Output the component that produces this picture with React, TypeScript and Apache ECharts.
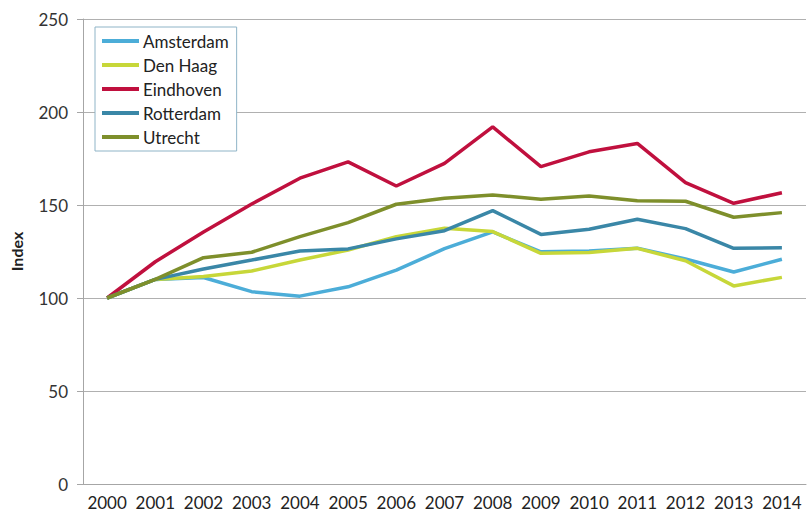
import React, { useEffect, useRef } from "react";
import * as echarts from "echarts";

const years = ["2000","2001","2002","2003","2004","2005","2006","2007","2008","2009","2010","2011","2012","2013","2014"];
const amsterdam = [100, 110, 111, 103.4, 101, 106, 115, 126.5, 135.5, 124.8, 125.3, 126.8, 121, 114, 120.8];
const denHaag = [100, 110, 111.5, 114.5, 120.4, 125.8, 133, 137.5, 135.7, 124, 124.4, 126.7, 120, 106.5, 111.1];
const eindhoven = [100, 119.5, 135.5, 150.5, 164.4, 173.2, 160.2, 172.4, 192, 170.6, 178.6, 183.1, 162, 150.9, 156.6];
const rotterdam = [100, 110, 115.6, 120.4, 125.3, 126.4, 131.8, 136.2, 147, 134.2, 137, 142.3, 137.3, 126.7, 127];
const utrecht = [100, 110, 121.7, 124.6, 133, 140.5, 150.4, 153.6, 155.4, 153.1, 154.8, 152.3, 152, 143.4, 145.9];
const yTicks = [0, 50, 100, 150, 200, 250];

const seriesDefs = [
  { name: "Amsterdam", data: amsterdam, color: "#4cadd8" },
  { name: "Den Haag", data: denHaag, color: "#c7d739" },
  { name: "Eindhoven", data: eindhoven, color: "#c0103e" },
  { name: "Rotterdam", data: rotterdam, color: "#3a87a7" },
  { name: "Utrecht", data: utrecht, color: "#7e8f2b" },
];

export default function App() {
  const ref = useRef<HTMLDivElement>(null);
  useEffect(() => {
    const chart = echarts.init(ref.current!, null, { renderer: "svg" });
    const font = "Lato";
    chart.setOption({
      animation: false,
      backgroundColor: "#ffffff",
      textStyle: { fontFamily: font },
      grid: { left: 80, right: 1, top: 19, bottom: 30, containLabel: false },
      legend: {
        orient: "vertical",
        left: 95,
        top: 27,
        padding: [5, 8, 5, 7],
        borderColor: "#8fb4c7",
        borderWidth: 1,
        backgroundColor: "#ffffff",
        icon: "rect",
        itemWidth: 37,
        itemHeight: 4,
        itemGap: 6,
        textStyle: { fontFamily: font, fontSize: 17, color: "#222", lineHeight: 18, padding: [0, 0, 0, -1] },
        data: seriesDefs.map((s) => s.name),
      },
      xAxis: {
        type: "category",
        data: years,
        boundaryGap: true,
        axisLine: { show: true, lineStyle: { color: "#a6a6a6", width: 1 } },
        axisTick: { show: false },
        axisLabel: { fontFamily: font, fontSize: 17, color: "#222", margin: 10, interval: 0 },
      },
      yAxis: {
        type: "value",
        min: 0,
        max: 250,
        interval: 50,
        name: "Index",
        nameLocation: "middle",
        nameGap: 59,
        nameTextStyle: { fontFamily: font, fontSize: 16, fontWeight: "bold", color: "#222" },
        axisLine: { show: true, lineStyle: { color: "#a6a6a6", width: 1 } },
        axisTick: { show: true, length: 6, lineStyle: { color: "#a6a6a6" } },
        axisLabel: {
          fontFamily: font,
          fontSize: 17,
          color: "#333",
          margin: 15,
          formatter: (v: number) => (yTicks.includes(v) ? String(v) : ""),
        },
        splitLine: { show: true, lineStyle: { color: "#b0b0b0", width: 1 } },
      },
      series: seriesDefs.map((s) => ({
        name: s.name,
        type: "line",
        data: s.data,
        symbol: "none",
        smooth: false,
        itemStyle: { color: s.color },
        lineStyle: { color: s.color, width: 3.5 },
      })),
    });
    return () => chart.dispose();
  }, []);
  return <div ref={ref} style={{ width: 807, height: 514, position: "absolute", left: 0, top: 0 }} />;
}
